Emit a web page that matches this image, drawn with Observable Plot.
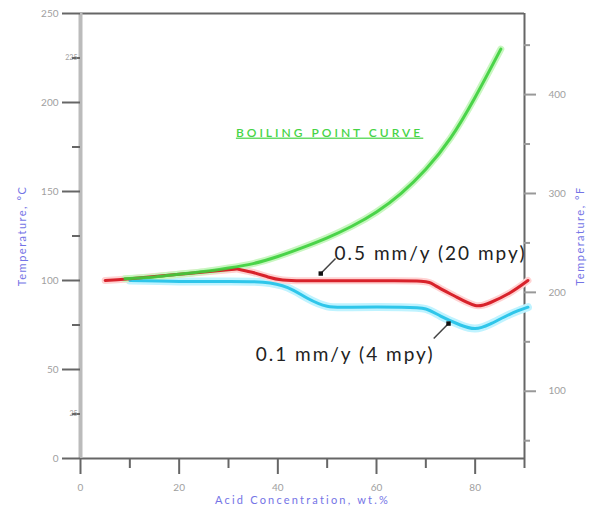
<!DOCTYPE html>
<html><head><meta charset="utf-8">
<script src="https://cdn.jsdelivr.net/npm/d3@7"></script>
<script src="https://cdn.jsdelivr.net/npm/@observablehq/plot@0.6"></script>
<style>body{margin:0;background:#fff;}</style>
</head><body><div id="chart"></div>
<script>
// Boiling point curve (°C vs acid wt.%)
const boilX = [9, 15, 20, 25, 30, 35, 40, 45, 50, 55, 60, 65, 70, 75, 80, 85.2];
const boilC = [101, 102, 103.5, 105, 107, 109.5, 113.5, 118.5, 124, 130.5, 138.5, 149, 162.5, 180, 203, 230];
// 0.5 mm/y iso-corrosion curve
const redX = [5, 10, 20, 30, 32, 35, 38, 41, 45, 50, 60, 69, 72, 76, 80, 83, 87, 90.7];
const redC = [100, 101, 103.5, 106, 106.3, 104.5, 102, 100.3, 99.8, 99.8, 99.8, 99.6, 97, 91, 86, 87.5, 93, 100];
// 0.1 mm/y iso-corrosion curve
const cyanX = [10, 20, 30, 37, 42, 46, 50, 55, 65, 70, 73, 77, 80, 83, 87, 90.7];
const cyanC = [100, 99.5, 99.5, 99, 96, 90, 85.5, 85, 85, 84, 80, 75, 73, 75.5, 81, 85];

// Axis ticks
const xMajor = [0, 20, 40, 60, 80];
const xMinor = [10, 30, 50, 70, 90];
const cMajor = [0, 50, 100, 150, 200, 250];
const cMinor = [25, 75, 125, 175, 225];
const cMinorLabeled = [25, 225];
const fMajor = [100, 200, 300, 400];
const fMinor = [50, 150, 250, 350, 450];

// Annotations
const labelTexts = ["0.5 mm/y (20 mpy)", "0.1 mm/y (4 mpy)"];
const labelX = [51.5, 35.5];
const labelC = [115, 58];
const arrowX1 = [51.7, 71.6];
const arrowC1 = [112.4, 67.4];
const arrowX2 = [48.7, 74.6];
const arrowC2 = [103.9, 75.8];
const curveTitle = "BOILING POINT CURVE";
const curveTitleX = 31.5;
const curveTitleC = 183;

const toC = f => (f - 32) * 5 / 9;
const pts = (X, Y) => X.map((x, i) => ({x, y: Y[i]}));
const boil = pts(boilX, boilC), red = pts(redX, redC), cyan = pts(cyanX, cyanC);
const arrows = arrowX1.map((x, i) => ({x1: x, y1: arrowC1[i], x2: arrowX2[i], y2: arrowC2[i]}));
const labels = labelTexts.map((t, i) => ({t, x: labelX[i], y: labelC[i]}));

const tickGray = "#666", textGray = "#a0a0a0", titleBlue = "#7474e6";

const chart = Plot.plot({
  width: 600, height: 512,
  marginLeft: 80, marginRight: 76, marginTop: 13, marginBottom: 54,
  style: {fontFamily: "Lato, sans-serif", background: "#fff"},
  x: {domain: [0, 90], axis: null},
  y: {domain: [0, 250], axis: null},
  marks: [
    // frame
    Plot.ruleY([250], {stroke: tickGray, strokeWidth: 2}),
    Plot.ruleY([0], {stroke: tickGray, strokeWidth: 2}),
    Plot.ruleX([90], {stroke: tickGray, strokeWidth: 2}),
    Plot.ruleX([0], {stroke: "#bbb", strokeWidth: 4}),
    // bottom axis
    Plot.axisX({ticks: xMajor, tickSize: 16, stroke: tickGray, strokeWidth: 2, fill: textGray, fontSize: 10, tickPadding: 9, label: null}),
    Plot.axisX({ticks: xMinor, tickSize: 10, stroke: tickGray, strokeWidth: 2, text: null, label: null}),
    // left axis (°C)
    Plot.ruleY(cMajor, {x1: 0, x2: 0, insetLeft: -18, stroke: tickGray, strokeWidth: 2}),
    Plot.ruleY(cMinor, {x1: 0, x2: 0, insetLeft: -8, stroke: tickGray, strokeWidth: 2}),
    Plot.text(cMajor, {y: d => d, frameAnchor: "left", dx: -22, textAnchor: "end", fill: textGray, fontSize: 10}),
    Plot.text(cMinorLabeled, {y: d => d, frameAnchor: "left", dx: -3, textAnchor: "end", fill: textGray, fontSize: 7}),
    // right axis (°F)
    Plot.ruleY(fMajor.map(toC), {x1: 90, x2: 90, insetRight: -12, stroke: "#999", strokeWidth: 2}),
    Plot.ruleY(fMinor.map(toC), {x1: 90, x2: 90, insetRight: -6, stroke: "#999", strokeWidth: 2}),
    Plot.text(fMajor, {y: toC, text: d => d, frameAnchor: "right", dx: 24, textAnchor: "start", fill: textGray, fontSize: 10}),
    // titles
    Plot.text(["Acid Concentration, wt.%"], {frameAnchor: "bottom", dy: 45, textAnchor: "middle", fill: titleBlue, fontSize: 11, className: "ttl"}),
    Plot.text(["Temperature, °C"], {frameAnchor: "left", dx: -58, rotate: -90, textAnchor: "middle", fill: titleBlue, fontSize: 11, className: "ttl2"}),
    Plot.text(["Temperature, °F"], {frameAnchor: "right", dx: 56, rotate: -90, textAnchor: "middle", fill: titleBlue, fontSize: 11, className: "ttl2"}),
    // halos
    Plot.line(cyan, {x: "x", y: "y", curve: "natural", stroke: "#bff3ff", strokeWidth: 8}),
    Plot.line(red, {x: "x", y: "y", curve: "natural", stroke: "#ffd2d2", strokeWidth: 7}),
    Plot.line(boil, {x: "x", y: "y", curve: "natural", stroke: "#c8f7c0", strokeWidth: 7}),
    // curves
    Plot.line(cyan, {x: "x", y: "y", curve: "natural", stroke: "#2fc6ea", strokeWidth: 3}),
    Plot.line(red, {x: "x", y: "y", curve: "natural", stroke: "#d8222b", strokeWidth: 3}),
    Plot.line(boil, {x: "x", y: "y", curve: "natural", stroke: "#3ccf3c", strokeWidth: 3, strokeOpacity: 0.9}),
    // annotations
    Plot.text([curveTitle], {x: () => curveTitleX, y: () => curveTitleC, textAnchor: "start", fill: "#46d446", fontSize: 12, fontWeight: 600, className: "ul"}),
    Plot.link(arrows, {x1: "x1", y1: "y1", x2: "x2", y2: "y2", stroke: "#444", strokeWidth: 1.5}),
    Plot.dot(arrows, {x: "x2", y: "y2", r: 2.5, fill: "#111", symbol: "square"}),
    Plot.text(labels, {x: "x", y: "y", text: "t", textAnchor: "start", fill: "#222", fontSize: 19, className: "lbl"})
  ]
});
const s = d3.select(chart);
s.selectAll(".ul text").style("text-decoration", "underline").style("letter-spacing", "3px");
s.selectAll(".lbl text").style("letter-spacing", "2px");
s.selectAll(".ttl text").style("letter-spacing", "2.2px");
s.selectAll(".ttl2 text").style("letter-spacing", "1.5px");
document.getElementById("chart").appendChild(chart);
</script>
</body></html>
